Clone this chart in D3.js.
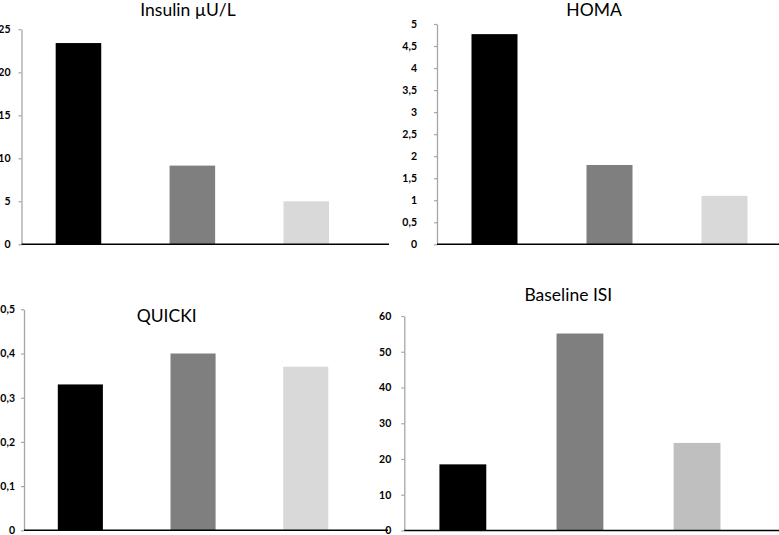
<!DOCTYPE html>
<html>
<head>
<meta charset="utf-8">
<script src="https://cdn.jsdelivr.net/npm/d3@7"></script>
<style>
  body { margin: 0; background: #fff; }
  svg { display: block; }
  .title { font-family: Lato, "Open Sans", sans-serif; font-size: 17.5px; fill: #000; }
  .tick text { font-family: Lato, "Open Sans", sans-serif; font-size: 10.5px; font-weight: bold; fill: #000; }
</style>
</head>
<body>
<div id="frame"></div>
<script>
'use strict'

// data
var groups = ["g1", "g2", "g3"]
var insulin = [23.4, 9.15, 5.0]
var homa = [4.77, 1.8, 1.1]
var quicki = [0.33, 0.40, 0.37]
var isi = [18.5, 55.1, 24.5]

var insulinTicks = [0, 5, 10, 15, 20, 25]
var homaTicks = [0, 0.5, 1, 1.5, 2, 2.5, 3, 3.5, 4, 4.5, 5]
var quickiTicks = [0, 0.1, 0.2, 0.3, 0.4, 0.5]
var isiTicks = [0, 10, 20, 30, 40, 50, 60]

var colorsA = ["#000000", "#7f7f7f", "#d9d9d9"]
var colorsB = ["#000000", "#7f7f7f", "#bfbfbf"]

var app = {}
app.fmt = d3.formatLocale({ decimal: ",", thousands: ".", grouping: [3], currency: ["", ""] }).format("~g")

app.svg = d3.select("#frame")
  .append("svg")
  .attr("width", 779)
  .attr("height", 535)

// layout of the four panels
var panels = [
  { title: "Insulin \u00b5U/L", values: insulin, ticks: insulinTicks, colors: colorsA,
    ax: 21.5, top: 29.3, bottom: 244.3, xEnd: 389, step: 113.9, pad: 8, tx: 188, ty: 16 },
  { title: "HOMA", values: homa, ticks: homaTicks, colors: colorsA,
    ax: 437, top: 24, bottom: 244.3, xEnd: 779, step: 115, pad: 17, tx: 594, ty: 16 },
  { title: "QUICKI", values: quicki, ticks: quickiTicks, colors: colorsA,
    ax: 24, top: 309.3, bottom: 530.3, xEnd: 388, step: 112.7, pad: 6, tx: 166.7, ty: 322 },
  { title: "Baseline ISI", values: isi, ticks: isiTicks, colors: colorsB,
    ax: 404.3, top: 316, bottom: 530.5, xEnd: 779, step: 117.1, pad: 10, tx: 568.3, ty: 301 }
]

app.drawPanel = function(p) {
  var g = app.svg.append("g").attr("class", "panel")

  var x = d3.scaleBand()
    .domain(groups)
    .range([p.ax, p.ax + 3 * p.step])
    .paddingInner(0.6)
    .paddingOuter(0.3)

  var y = d3.scaleLinear()
    .domain([0, d3.max(p.ticks)])
    .range([p.bottom, p.top])

  var yAxis = g.append("g")
    .attr("transform", "translate(" + p.ax + ",0)")
    .call(d3.axisLeft(y)
      .tickValues(p.ticks)
      .tickFormat(app.fmt)
      .tickSize(3)
      .tickSizeOuter(0)
      .tickPadding(p.pad))
  yAxis.select(".domain").attr("stroke", "#a6a6a6").attr("stroke-width", 1.3)
  yAxis.selectAll(".tick line").attr("stroke", "#a6a6a6").attr("stroke-width", 1.2)

  g.selectAll("rect.bar")
    .data(p.values)
    .enter().append("rect")
    .attr("class", "bar")
    .attr("x", (d, i) => x(groups[i]))
    .attr("width", x.bandwidth())
    .attr("y", d => y(d))
    .attr("height", d => y(0) - y(d))
    .attr("fill", (d, i) => p.colors[i])

  // baseline
  g.append("line")
    .attr("x1", p.ax)
    .attr("x2", p.xEnd)
    .attr("y1", y(0))
    .attr("y2", y(0))
    .attr("stroke", "#000")
    .attr("stroke-width", 1.6)

  g.append("text")
    .attr("class", "title")
    .attr("x", p.tx)
    .attr("y", p.ty)
    .attr("text-anchor", "middle")
    .text(p.title)
}

panels.forEach(p => app.drawPanel(p))
</script>
</body>
</html>
